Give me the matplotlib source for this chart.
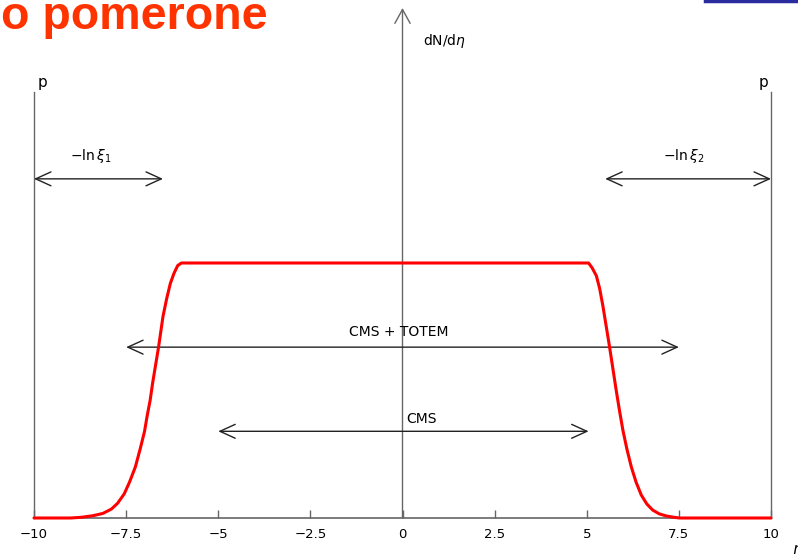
import matplotlib
matplotlib.use("Agg")
import matplotlib.pyplot as plt
from matplotlib.patches import FancyArrowPatch
from matplotlib.lines import Line2D

# ---- data ----
eta_left = [-10.0, -9.0, -8.7, -8.4, -8.13, -7.9, -7.73, -7.55, -7.41, -7.25, -7.12, -7.0, -6.93,
            -6.85, -6.78, -6.70, -6.62, -6.55, -6.50, -6.40, -6.30, -6.20, -6.10, -6.0]
dn_left = [0.0, 0.0, 0.003, 0.009, 0.018, 0.035, 0.058, 0.095, 0.14, 0.20, 0.27, 0.34, 0.40,
           0.46, 0.53, 0.60, 0.67, 0.74, 0.79, 0.86, 0.92, 0.96, 0.99, 1.0]
eta_right = [5.05, 5.15, 5.26, 5.35, 5.44, 5.53, 5.62, 5.71, 5.80, 5.89, 5.98, 6.09, 6.21, 6.34,
             6.48, 6.63, 6.79, 6.97, 7.16, 7.35, 7.52, 10.0]
dn_right = [1.0, 0.98, 0.95, 0.90, 0.83, 0.75, 0.67, 0.585, 0.50, 0.42, 0.345, 0.27, 0.20, 0.14,
            0.09, 0.055, 0.031, 0.016, 0.008, 0.003, 0.0, 0.0]
xticks = [-10, -7.5, -5, -2.5, 0, 2.5, 5, 7.5, 10]
xticklabels = ["\u221210", "\u22127.5", "\u22125", "\u22122.5", "0", "2.5", "5", "7.5", "10"]
arrow_ranges = {  # label: (start, end, height)
    "lnxi1": (-10.0, -6.5, 1.33),
    "lnxi2": (5.5, 10.0, 1.33),
    "cmstotem": (-7.5, 7.5, 0.67),
    "cms": (-5.0, 5.05, 0.34),
}

W, H = 798, 557
fig = plt.figure(figsize=(W / 100, H / 100), dpi=100)
fig.patch.set_facecolor("white")
ax = fig.add_axes([34 / W, (H - 518) / H, 737 / W, 510 / H])
ax.set_xlim(-10, 10)
ax.set_ylim(0, 2.0)
for s in ["left", "right", "top"]:
    ax.spines[s].set_visible(False)
ax.spines["bottom"].set_color("#666666")
ax.spines["bottom"].set_linewidth(1.2)
ax.set_yticks([])
ax.set_xticks(xticks)
ax.set_xticklabels(xticklabels, fontsize=9.5, family="DejaVu Sans")
ax.tick_params(axis="x", direction="in", length=6, width=1, color="#666666", pad=7)

grey = "#666666"
# side vertical lines and y axis
ax.plot([-10, -10], [0, 1.67], color=grey, lw=1.0, clip_on=False)
ax.plot([10, 10], [0, 1.67], color=grey, lw=1.0, clip_on=False)
ax.add_patch(FancyArrowPatch((0, 0), (0, 2.0), arrowstyle="->,head_length=1.0,head_width=0.55",
                             mutation_scale=10, color=grey, lw=1.0, shrinkA=0, shrinkB=0,
                             clip_on=False))

# red curve
eta_curve = eta_left + eta_right
dndeta = dn_left + dn_right
ax.plot(eta_curve, dndeta, color="#FF0000", lw=2.2, clip_on=False, solid_joinstyle="round",
        solid_capstyle="round", zorder=5)

# double arrows
for key, (a, b, h) in arrow_ranges.items():
    ax.add_patch(FancyArrowPatch((a, h), (b, h), arrowstyle="<->,head_length=1.1,head_width=0.5",
                                 mutation_scale=10, color="#222222", lw=1.0, shrinkA=0, shrinkB=0,
                                 clip_on=False, zorder=4))

tkw = dict(fontsize=10, family="DejaVu Sans", color="black")
ax.text(-8.45, 1.42, r"$-\ln\xi_1$", ha="center", va="center", **tkw)
ax.text(7.63, 1.42, r"$-\ln\xi_2$", ha="center", va="center", **tkw)
ax.text(-0.1, 0.73, "CMS + TOTEM", ha="center", va="center", **tkw)
ax.text(0.1, 0.39, "CMS", ha="left", va="center", **tkw)
ax.text(0.55, 1.87, r"dN/d$\eta$", ha="left", va="center", **tkw)
ax.text(-9.9, 1.68, "p", ha="left", va="bottom", fontsize=11, family="DejaVu Sans")
ax.text(9.93, 1.68, "p", ha="right", va="bottom", fontsize=11, family="DejaVu Sans")

# eta label at corner (partially cut)
fig.text(792 / W, 1 - 551 / H, r"$\eta$", fontsize=11, ha="left", va="center")

# title fragment
fig.text(268 / W, 1 - 29 / H, "o pomerone", ha="right", va="baseline", fontsize=33.5,
         fontweight="bold", family="Liberation Sans", color="#FF3300")

# blue line at top right
fig.add_artist(Line2D([705 / W, 1.0], [1 - 1 / H, 1 - 1 / H], transform=fig.transFigure,
                      color="#2B2BA0", lw=2.5))

fig.savefig("out.png", dpi=100)
